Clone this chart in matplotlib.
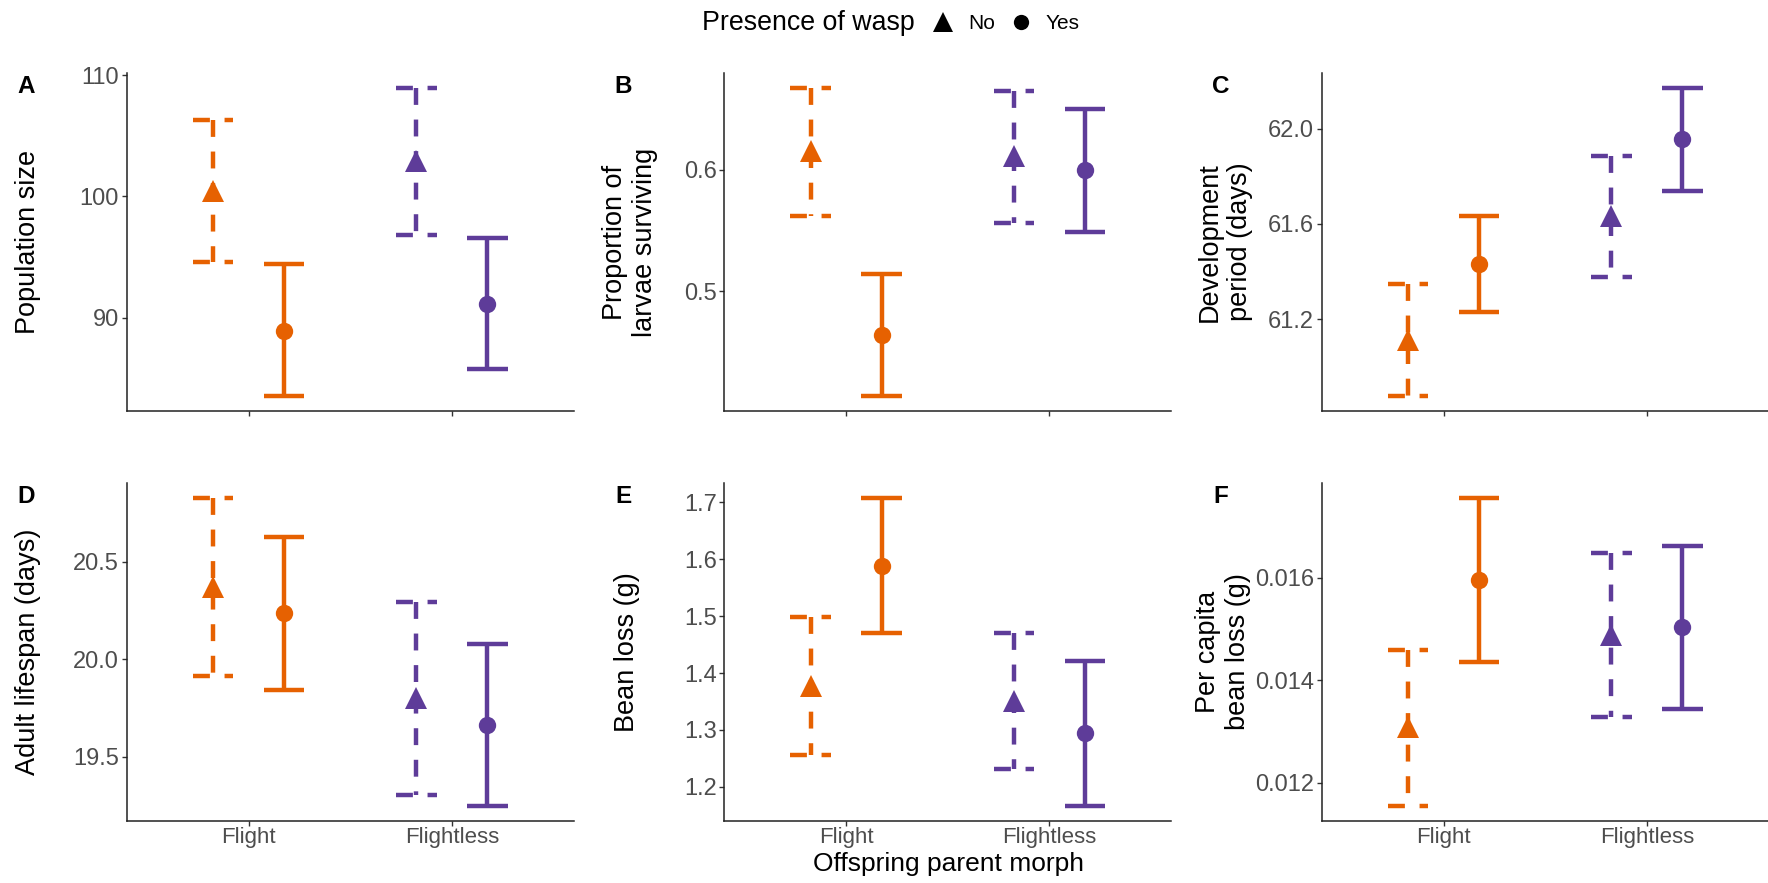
import matplotlib
matplotlib.use("Agg")
import matplotlib.pyplot as plt
from matplotlib.lines import Line2D

plt.rcParams['font.family'] = ['Liberation Sans', 'DejaVu Sans']

# ---------------- data ----------------
morphs = ["Flight", "Flightless"]
wasp_levels = ["No", "Yes"]
# group order: Flight-No, Flight-Yes, Flightless-No, Flightless-Yes
group_morph = [0, 0, 1, 1]
group_wasp = [0, 1, 0, 1]

pop_mean = [100.43, 88.95, 102.88, 91.10]
pop_lo = [94.58, 83.57, 96.84, 85.75]
pop_hi = [106.27, 94.40, 108.93, 96.55]

surv_mean = [0.615, 0.464, 0.611, 0.600]
surv_lo = [0.5623, 0.4142, 0.5560, 0.5486]
surv_hi = [0.6670, 0.5145, 0.6648, 0.6500]

dev_mean = [61.113, 61.433, 61.633, 61.955]
dev_lo = [60.879, 61.231, 61.378, 61.740]
dev_hi = [61.347, 61.635, 61.887, 62.170]

life_mean = [20.372, 20.235, 19.800, 19.663]
life_lo = [19.914, 19.844, 19.305, 19.247]
life_hi = [20.827, 20.627, 20.294, 20.080]

bean_mean = [1.378, 1.589, 1.351, 1.294]
bean_lo = [1.2556, 1.470, 1.231, 1.1667]
bean_hi = [1.4995, 1.7077, 1.470, 1.421]

percap_mean = [0.01308, 0.01596, 0.01489, 0.01504]
percap_lo = [0.01155, 0.01436, 0.01329, 0.01344]
percap_hi = [0.01460, 0.01756, 0.01649, 0.01663]

panel_letters = ["A", "B", "C", "D", "E", "F"]
panel_ylabels = ["Population size", "Proportion of\nlarvae surviving",
                 "Development\nperiod (days)", "Adult lifespan (days)",
                 "Bean loss (g)", "Per capita\nbean loss (g)"]
panel_yticks = [[90, 100, 110], [0.5, 0.6], [61.2, 61.6, 62.0],
                [19.5, 20.0, 20.5], [1.2, 1.3, 1.4, 1.5, 1.6, 1.7],
                [0.012, 0.014, 0.016]]
panel_yticklabels = [["90", "100", "110"], ["0.5", "0.6"],
                     ["61.2", "61.6", "62.0"], ["19.5", "20.0", "20.5"],
                     ["1.2", "1.3", "1.4", "1.5", "1.6", "1.7"],
                     ["0.012", "0.014", "0.016"]]
panel_means = [pop_mean, surv_mean, dev_mean, life_mean, bean_mean, percap_mean]
panel_lo = [pop_lo, surv_lo, dev_lo, life_lo, bean_lo, percap_lo]
panel_hi = [pop_hi, surv_hi, dev_hi, life_hi, bean_hi, percap_hi]

# ---------------- style ----------------
morph_colors = ["#E66101", "#5E3C99"]
wasp_markers = ["^", "o"]
wasp_msize = [16, 12.5]
dodge = 0.175
cap_half = 0.1
lw = 3.2
dash_pat = (3.8, 3.3)
tick_col = "#4D4D4D"

W, H = 1768, 883
fig = plt.figure(figsize=(W / 100, H / 100), dpi=100)
col_left = [126.7, 724.3, 1321.7]
row_top = [72.7, 482.7]
ax_w, ax_h = 447, 338.5
ylabel_x = [-0.2208, -0.211, -0.2163, -0.2208, -0.218, -0.2208]

for i in range(6):
    r, c = divmod(i, 3)
    ax = fig.add_axes([col_left[c] / W, 1 - (row_top[r] + ax_h) / H, ax_w / W, ax_h / H])
    means, los, his = panel_means[i], panel_lo[i], panel_hi[i]
    for k in range(4):
        m, wv = group_morph[k], group_wasp[k]
        x = (m + 1) + (-dodge if wv == 0 else dodge)
        col = morph_colors[m]
        segs = [([x - cap_half, x + cap_half], [his[k], his[k]]),
                ([x, x], [his[k], los[k]]),
                ([x - cap_half, x + cap_half], [los[k], los[k]])]
        for sx, sy in segs:
            line, = ax.plot(sx, sy, color=col, lw=lw, solid_capstyle='butt',
                            dash_capstyle='butt', zorder=2)
            if wv == 0:
                line.set_dashes(dash_pat)
        ax.plot([x], [means[k]], marker=wasp_markers[wv], ms=wasp_msize[wv],
                color=col, mew=0, linestyle='none', zorder=3)
    lo_all, hi_all = min(los), max(his)
    pad = 0.05 * (hi_all - lo_all)
    ax.set_ylim(lo_all - pad, hi_all + pad)
    ax.set_xlim(0.4, 2.6)
    ax.set_xticks([1, 2])
    if r == 1:
        ax.set_xticklabels(morphs, fontsize=16, color=tick_col)
    else:
        ax.set_xticklabels([])
    ax.set_yticks(panel_yticks[i])
    ax.set_yticklabels(panel_yticklabels[i], fontsize=17, color=tick_col)
    ax.tick_params(axis='y', length=3.5, width=1, color="#333333", pad=2)
    ax.tick_params(axis='x', length=3.5, width=1, color="#333333", pad=1)
    for s in ["top", "right"]:
        ax.spines[s].set_visible(False)
    for s in ["left", "bottom"]:
        ax.spines[s].set_linewidth(1.1)
        ax.spines[s].set_color("#222222")
    ax.set_ylabel(panel_ylabels[i], fontsize=19.5, va='center', ha='center',
                  multialignment='center')
    ax.yaxis.set_label_coords(ylabel_x[i], 0.5)
    ax.text(-0.226, 0.9586, panel_letters[i], transform=ax.transAxes,
            fontsize=17.5, fontweight='bold', ha='center', va='center')

fig.text(948.8 / W, 1 - 864 / H, "Offspring parent morph", fontsize=19,
         ha='center', va='center')

# legend
fig.text(915 / W, 1 - 23.3 / H, "Presence of wasp", fontsize=19.3,
         ha='right', va='center')
handles = [Line2D([], [], marker=wasp_markers[j], color='black', ms=[15, 11][j],
                  mew=0, linestyle='none') for j in range(2)]
fig.legend(handles, wasp_levels, loc='center left',
           bbox_to_anchor=(932.6 / W, 1 - 23.3 / H), ncol=2, frameon=False,
           fontsize=15, handlelength=1.0, handletextpad=0.7, columnspacing=0.74,
           borderpad=0, borderaxespad=0)

fig.savefig("out.png", dpi=100)
